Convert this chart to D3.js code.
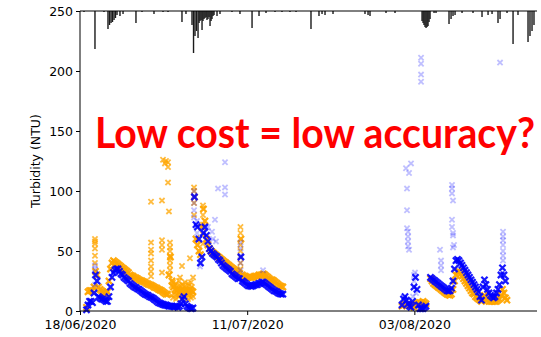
<!DOCTYPE html>
<html><head><meta charset="utf-8">
<script src="https://cdn.jsdelivr.net/npm/d3@7"></script>
<style>body{margin:0;background:#fff}svg{display:block}</style>
</head><body><svg id="c" width="541" height="337"></svg>
<script>
// ---------- DATA ----------
const DAY = 86400000;
const ORIGIN = Date.UTC(2020, 5, 18);
const STEP_MIN = 297; // sampling interval of the plotted series (minutes)
const seg1Start = Date.UTC(2020, 5, 18, 21, 28);
const seg2Start = Date.UTC(2020, 7, 1, 7, 16);

const blueSeg1 = [1,5,8,8,7,15,30,25,12,11, 10,10,9,8,8,12,20,28,32,34, 35,35,33,31,30,28,27,26,25,23,
  22,21,20,19.5,18.5,18,17,16,15,14, 13.5,13,12,11.5,11,10,9,8,7,6.5, 6,5.5,5,5,4.5,4,4,4,3.5,3.5,
  4,3,4,6,10,12,6,4,3,2.5, 2,2.5,
  95,72,70,60,40,45,65,70,63,58, 52,50,48,47,46,45,43,42,40,38, 37,36,35,34,33,31,30,29,28,27,
  27,45,25,24,23,22,21,21,20.5,21, 21.5,22,22,23,23,24,24,23,22,21, 20,19,18,17,16.5,16,15,14.5,14,14];
const orangeSeg1 = [3,16,17,17,17,20,33,30,20,18, 17,16,15,14,16,25,35,40,42,41, 40,39,38,37,36,35,34,33,32,30,
  29.5,29,28,27.5,27,26,25.5,25,24.5,24, 23,22.5,22,21.5,21,20,19.5,19,18,17.5, 17,16,15,14,14,30,45,25,20,18,
  17,18,16,17,18,17,16,17,16,18,17,16,
  95,60,55,50,47,70,85,75,60,55, 52,50,49,48,47,46,45,44,43,42, 41,40,39,38,37,36,35,34,33,32,
  31,60,30,29,29,28,28,28,28,28, 29,29,29,30,30,30,31,30,29,28, 27,26,26,25,24,23,22,21,20.5,20];
const blueSeg2 = [5,10,12,9,6,4,3,8,20,28, 18,5,2,2,2,3,4,null,null,28, 27,26,25,24,23,22,21,20,19,18,
  17,16.5,17,19,25,35,42,43,42,40, 38,36,34,32,30,28,26,24,22,20, 18,16,12,9,20,26,22,18,15,13,
  12,11,12,15,18,22,30,36,30,25];
const orangeSeg2 = [4,5,6,5,5,5,5,4,3,5, 6,7,7,7,8,7,6,null,null,27, 25,23,22,21,20,19,18,17,16,15,
  14,13.5,13,14,18,25,30,33,33,31, 29,27,25,23,21,19,17,15,14,12, 11,10,9,8,10,13,11,9,8,8,
  8,8,8,8,9,10,13,18,15,11,9];

// scattered readings [days since 18/06/2020, NTU]
const orangeExtra = [[2.06,60],[2.06,58],[2.06,56],[2.06,52],[2.06,46],[2.06,40],
  [9.77,91],[9.77,57],[9.77,51],[9.77,48],[9.77,42],[9.77,37],[9.77,33],[9.77,29],
  [11.28,92],[11.28,59],[11.28,55],[11.28,51],[11.28,32],
  [11.42,126],[11.69,123],[11.83,125],[12.11,124],[12.11,120],[12.11,107],[12.24,83],
  [12.38,57],[12.38,53],[12.38,50],[12.38,46],[12.38,42],[12.38,38],[12.38,34],
  [12.80,11],[12.80,24],[13.21,10],[13.21,23],[13.62,12],[13.62,25],[14.03,10],[14.03,22],
  [14.45,11],[14.45,24],[14.86,10],[14.86,23],[15.27,11],[15.27,24],[15.55,12],
  [12.6,13],[12.6,21],[13.0,14],[13.0,21],[13.4,13],[13.4,20],[13.8,14],[13.8,21],
  [14.2,13],[14.2,21],[14.6,14],[14.6,20],[15.0,13],[15.0,21],[15.4,14],[15.4,20],
  [14.03,37.5],[15.13,44],[15.55,28],[13.76,28],
  [15.69,103],[15.69,100],[15.69,90],[15.69,80],
  [16.92,88],[16.92,80],[16.92,72],[16.92,64],[16.92,56],
  [22.08,70],[22.08,65],[22.08,55],[22.08,50],[22.08,45],[22.08,40],[22.08,35]];
const blueExtra = [[2.06,38],[2.06,35],[2.06,22],
  [15.69,100],[15.69,96],[15.69,90],[15.69,84],[15.69,78],
  [16.10,75],[16.10,65],[16.51,37],
  [17.61,70],[18.16,66],[18.30,60],[18.71,58],[18.57,76],[18.99,102],[19.95,103],[19.95,97],[19.95,124],
  [22.08,57],[22.08,52],[22.08,46],[22.08,40],[22.08,34],[25.18,34],
  [44.85,119],[45.54,123],[45.27,115],[44.99,102],[44.99,84],[44.99,69],[45.13,66],[45.13,62],[45.13,58],[45.13,54],[45.27,51],
  [45.96,30],[46.09,32],[45.96,25],[46.23,15],[45.82,12],
  [46.92,211],[46.92,206],[46.92,197],[46.92,191],[57.79,207],
  [49.53,51],[49.67,42],[49.67,38],[49.67,34],
  [51.18,105],[51.18,102],[51.18,98],[51.32,92],[51.18,76],[51.18,70],[51.32,65],[51.32,63],[51.46,55],[51.32,53],
  [58.20,66],[58.20,62],[58.20,59],[58.20,55],[58.20,50],[58.20,46],[58.20,42]];

// rainfall (days since 18/06/2020, mm) drawn hanging from the top
const rainDays = [0.55,2.06,3.30,3.85,4.06,4.27,4.47,4.68,4.88,5.09,5.50,5.92,7.70,8.53,10.18,11.42,12.11,14.03,14.58,
  15.41,15.62,15.82,16.03,16.24,16.38,16.51,16.65,16.79,16.92,17.06,17.20,17.34,17.47,17.61,17.75,17.89,18.03,18.16,18.30,18.44,18.85,19.26,
  20.91,22.01,23.67,24.63,25.59,26.83,27.79,28.89,29.72,31.78,32.88,33.30,33.71,34.81,39.21,39.63,39.90,42.10,43.34,
  47.06,47.20,47.33,47.47,47.61,47.75,47.88,48.02,48.16,48.71,48.98,50.77,51.05,51.32,51.60,52.56,54.07,55.31,56.14,56.69,
  57.51,57.79,58.75,59.58,60.26,61.64,61.91,62.19,62.46];
const rainMM = [0.1,3.8,0.1,1.8,1.4,1.2,1.1,0.9,0.7,0.4,0.5,0.3,1.2,0.1,0.3,0.1,0.1,1.1,0.3,
  1.4,4.2,2.5,2.0,2.7,1.2,1.0,0.9,1.9,1.0,0.8,0.7,0.6,0.9,0.8,0.6,1.5,1.0,0.8,0.5,0.4,0.5,0.3,
  0.1,0.3,1.7,0.5,0.2,0.1,0.1,0.1,0.1,1.8,0.5,0.3,0.4,0.3,0.3,0.4,0.5,0.2,0.2,
  1.0,1.2,1.4,1.6,1.7,1.6,1.5,1.1,0.8,0.2,0.2,1.3,0.8,0.5,0.4,0.2,0.2,0.6,0.4,0.3,
  1.2,0.8,0.2,3.3,0.4,3.1,2.5,2.0,1.4];

const yTicks = [0,50,100,150,200,250];
const xTicks = [Date.UTC(2020,5,18), Date.UTC(2020,6,11), Date.UTC(2020,7,3)];
const yLabel = "Turbidity (NTU)";
const title = "Low cost = low accuracy?";

// ---------- CHART ----------
const svg = d3.select("#c");
const L = 80, R = 537, T = 11, B = 311;
const x = d3.scaleUtc().domain([ORIGIN, ORIGIN + 62.875*DAY]).range([L, R]);
const y = d3.scaleLinear().domain([0, 250]).range([B, T]);
const rainY = d3.scaleLinear().domain([0, 30]).range([T, B]);

function series(start, vals){
  const out = [];
  vals.forEach((v,i)=>{ if(v!=null) out.push([start + i*STEP_MIN*60000, v]); });
  return out;
}
const extra = arr => arr.map(d => [ORIGIN + d[0]*DAY, d[1]]);

// rain bars
svg.append("g").selectAll("rect").data(rainDays.map((d,i)=>[ORIGIN+d*DAY, rainMM[i]]))
  .join("rect")
  .attr("x", d => x(d[0]) - 0.7).attr("width", 1.4)
  .attr("y", T).attr("height", d => rainY(d[1]) - T)
  .attr("fill", "#1a1a1a");

function xPath(r){ return `M${-r},${-r}L${r},${r}M${-r},${r}L${r},${-r}`; }
function marks(data, color, op, r, sw){
  svg.append("g").selectAll("path").data(data).join("path")
    .attr("d", xPath(r))
    .attr("transform", d => `translate(${x(d[0])},${y(d[1])})`)
    .attr("stroke", color).attr("stroke-width", sw).attr("fill", "none")
    .attr("stroke-opacity", op);
}
marks(series(seg1Start, orangeSeg1).concat(series(seg2Start, orangeSeg2)), "#ffa500", 0.95, 3.1, 2.2);
marks(extra(orangeExtra), "#ffa500", 0.75, 2.6, 1.8);
marks(series(seg1Start, blueSeg1).concat(series(seg2Start, blueSeg2)), "#0000ff", 0.9, 3.1, 2.2);
marks(extra(blueExtra), "#0000ff", 0.25, 2.6, 1.8);

// axes
const font = "'DejaVu Sans', sans-serif";
const ya = svg.append("g").attr("transform", `translate(${L},0)`)
  .call(d3.axisLeft(y).tickValues(yTicks).tickSize(4).tickPadding(3));
const xa = svg.append("g").attr("transform", `translate(0,${B})`)
  .call(d3.axisBottom(x).tickValues(xTicks).tickFormat(d3.utcFormat("%d/%m/%Y")).tickSize(4).tickPadding(5));
[ya, xa].forEach(g => {
  g.selectAll("text").attr("font-family", font).attr("font-size", 12.5).attr("fill", "#000");
  g.selectAll("line").attr("stroke", "#000");
  g.select(".domain").remove();
});
svg.append("line").attr("x1", L).attr("x2", L).attr("y1", T).attr("y2", B).attr("stroke", "#000");
svg.append("line").attr("x1", L).attr("x2", R).attr("y1", B).attr("y2", B).attr("stroke", "#000");
svg.append("line").attr("x1", L).attr("x2", R).attr("y1", T).attr("y2", T).attr("stroke", "#000");

svg.append("text").attr("transform", `translate(40,${(T+B)/2}) rotate(-90)`)
  .attr("text-anchor", "middle").attr("font-family", font).attr("font-size", 12.5)
  .text(yLabel);

svg.append("text").attr("x", 95).attr("y", 148)
  .attr("font-family", "Lato, 'Open Sans', sans-serif").attr("font-weight", 700)
  .attr("font-size", 42).attr("fill", "#ff0000")
  .attr("textLength", 440).attr("lengthAdjust", "spacingAndGlyphs")
  .text(title);
</script></body></html>
